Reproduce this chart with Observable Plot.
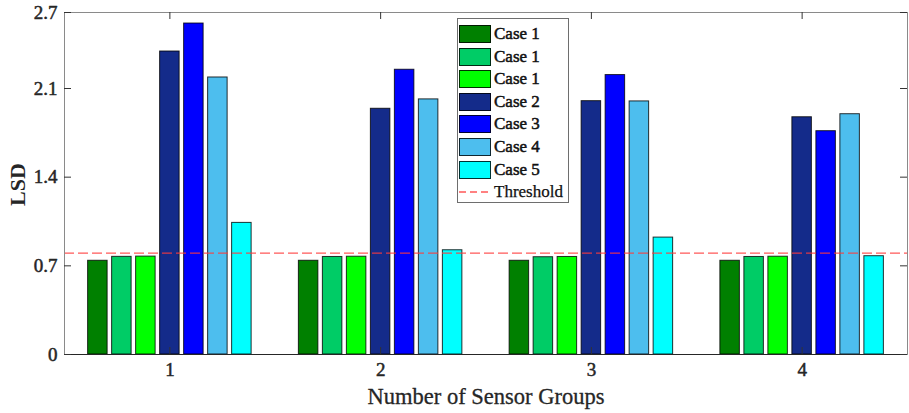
<!DOCTYPE html>
<html><head><meta charset="utf-8">
<script src="https://cdn.jsdelivr.net/npm/d3@7"></script>
<script src="https://cdn.jsdelivr.net/npm/@observablehq/plot@0.6"></script>
<style>
body{margin:0;background:#fff;}
#wrap{position:relative;width:909px;height:413px;font-family:"Liberation Serif","Times New Roman",serif;color:#262626;}
#legend{position:absolute;left:457px;top:18px;width:112px;height:185px;border:1px solid #6e6e6e;background:#fff;box-sizing:border-box;}
.item{position:absolute;left:1px;height:18px;display:flex;align-items:center;}
.sw{width:30px;height:16px;border:1px solid rgba(0,0,0,0.8);}
.lab{margin-left:3px;font-size:17px;color:#111;line-height:18px;white-space:nowrap;-webkit-text-stroke:0.5px #111;}
</style></head>
<body><div id="wrap"></div>
<script>
const groups = [1, 2, 3, 4];
const seriesNames = ["Case 1", "Case 1", "Case 1", "Case 2", "Case 3", "Case 4", "Case 5"];
const seriesColors = ["#008000", "#00cc66", "#00ff00", "#142b8a", "#0000ff", "#4dbeee", "#00ffff"];
const case1a = [0.740, 0.740, 0.740, 0.740];
const case1b = [0.771, 0.770, 0.768, 0.770];
const case1c = [0.773, 0.772, 0.770, 0.772];
const case2 = [2.392, 1.940, 2.000, 1.873];
const case3 = [2.613, 2.248, 2.206, 1.763];
const case4 = [2.187, 2.014, 1.998, 1.897];
const case5 = [1.039, 0.823, 0.923, 0.776];
const threshold = 0.8;
const yTicks = [0, 0.7, 1.4, 2.1, 2.7];
const yTickLabels = ["0", "0.7", "1.4", "2.1", "2.7"];
const xTickLabels = ["1", "2", "3", "4"];
const thresholdLabel = "Threshold";

const series = [case1a, case1b, case1c, case2, case3, case4, case5];
const rows = [];
series.forEach((vals, i) => vals.forEach((v, j) => rows.push({g: groups[j], i, v})));

// grouped-bar layout (in x data units, one group = 1 unit)
const STEP = 24 / 210.75, BW = 19.5 / 210.75;

const heavy = {fill: "#262626", stroke: "#262626", strokeWidth: 0.5};

const chart = Plot.plot({
  width: 909, height: 413,
  marginLeft: 64, marginRight: 2, marginTop: 12, marginBottom: 59,
  style: {fontFamily: '"Liberation Serif","Times New Roman",serif', color: "#262626", background: "#fff"},
  x: {domain: [0.5, 4.5], axis: null},
  y: {domain: [0, 2.7], axis: null},
  color: {type: "identity"},
  marks: [
    Plot.rect(rows, {
      x1: d => d.g + (d.i - 3) * STEP - BW / 2,
      x2: d => d.g + (d.i - 3) * STEP + BW / 2,
      y1: 0, y2: "v",
      fill: d => seriesColors[d.i],
      stroke: "#000", strokeOpacity: 0.8, strokeWidth: 1
    }),
    Plot.ruleY([threshold], {stroke: "#ff3b3b", strokeOpacity: 0.85, strokeWidth: 1.3, strokeDasharray: "10,4"}),
    Plot.frame({stroke: "#8a8a8a"}),
    Plot.ruleY([0], {stroke: "#262626"}),
    Plot.tickY(yTicks, {y: d => d, insetRight: 836, stroke: "#333"}),
    Plot.tickY(yTicks, {y: d => d, insetLeft: 836, stroke: "#333"}),
    Plot.tickX(groups, {x: d => d, insetTop: 335, stroke: "#333"}),
    Plot.tickX(groups, {x: d => d, insetBottom: 335, stroke: "#333"}),
    Plot.text(yTicks, {y: d => d, text: (d, i) => yTickLabels[i], frameAnchor: "left", textAnchor: "end",
      dx: -7, fontSize: 19, ...heavy}),
    Plot.text(groups, {x: d => d, text: (d, i) => xTickLabels[i], frameAnchor: "bottom", lineAnchor: "top",
      dy: 8, fontSize: 19, ...heavy}),
    Plot.text(["Number of Sensor Groups"], {frameAnchor: "bottom", text: d => d, dy: 49, fontSize: 22.5, fill: "#262626", stroke: "#262626", strokeWidth: 0.3}),
    Plot.text(["LSD"], {frameAnchor: "left", text: d => d, dx: -47, dy: 1, rotate: -90, textAnchor: "middle", lineAnchor: "middle",
      fontSize: 22, fontWeight: "bold", fill: "#262626"})
  ]
});
const wrap = document.getElementById("wrap");
wrap.appendChild(chart);

const legend = document.createElement("div");
legend.id = "legend";
seriesNames.forEach((name, i) => {
  const it = document.createElement("div");
  it.className = "item";
  it.style.top = (6 + i * 22.6) + "px";
  it.innerHTML = `<div class="sw" style="background:${seriesColors[i]}"></div><div class="lab">${name}</div>`;
  legend.appendChild(it);
});
const th = document.createElement("div");
th.className = "item";
th.style.top = (6 + 7 * 22.6) + "px";
th.innerHTML = `<svg width="32" height="18"><line x1="0" x2="32" y1="9" y2="9" stroke="#ff3b3b" stroke-opacity="0.85" stroke-width="1.3" stroke-dasharray="7,4"/></svg><div class="lab" style="-webkit-text-stroke:0.25px #111">${thresholdLabel}</div>`;
legend.appendChild(th);
wrap.appendChild(legend);
</script></body></html>
